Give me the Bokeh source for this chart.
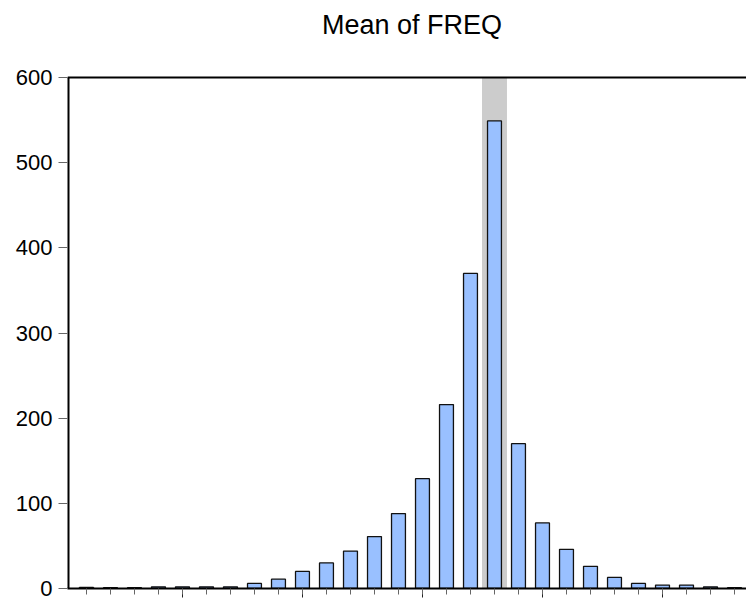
from bokeh.plotting import figure
from bokeh.models import FixedTicker, Range1d, Span, ColumnDataSource
from bokeh.core.properties import value
from bokeh.embed import file_html
from bokeh.resources import INLINE

# Bin index and mean frequency per bin
bins = list(range(1, 29))
freq = [1.2, 1.0, 1.0, 2, 2, 2, 2, 6, 11, 20, 30, 44, 61, 88, 129, 216,
        370, 549, 170, 77, 46, 26, 13, 6, 4, 4, 2, 1]
highlight_bin = [18]
y_ticks = [0, 100, 200, 300, 400, 500, 600]
x_major = [5, 10, 15, 20, 25]
title_text = ["Mean of FREQ"]

FONT = "Liberation Sans"

# Canvas geometry: the frame reaches the top of the canvas so the title can
# sit in the headroom above the value axis, which ends at Y1.
W, H = 746, 600
BORDER_L, BORDER_B = 67, 12
HEADROOM = 77                     # px between canvas top and the Y1 line
X0, X1 = 0.21, 28.5
Y0, Y1 = 0, 600
px_per_unit = (H - BORDER_B - HEADROOM) / (Y1 - Y0)
Y_TOP = Y1 + HEADROOM / px_per_unit

p = figure(width=W, height=H, output_backend="svg", toolbar_location=None,
           x_range=Range1d(X0, X1), y_range=Range1d(Y0, Y_TOP),
           min_border_left=BORDER_L, min_border_right=0, min_border_top=0,
           min_border_bottom=BORDER_B)

p.outline_line_color = None
p.xgrid.visible = False
p.ygrid.visible = False
p.background_fill_color = "white"
p.border_fill_color = "white"

# shaded band behind the selected bin
hsrc = ColumnDataSource(dict(x=highlight_bin, top=[Y1]))
p.vbar(x="x", top="top", bottom=0, width=1.04, source=hsrc,
       fill_color="#cccccc", line_color=None)

src = ColumnDataSource(dict(x=bins, top=freq))
p.vbar(x="x", top="top", bottom=0, width=0.58, source=src,
       fill_color="#99c0ff", line_color="#111111", line_width=1.3)

# top border line of the value area
p.add_layout(Span(location=Y1, dimension="width", line_color="black",
                  line_width=2))

# value axis line, stopping at Y1 (half of it falls outside the frame clip)
p.segment(x0=[X0], y0=[Y0], x1=[X0], y1=[Y1], line_color="black",
          line_width=4)

# chart title in the headroom
p.text(x=[(X0 + X1) / 2], y=[Y1 + 53 / px_per_unit], text=title_text,
       x_offset=5, text_font=value(FONT), text_font_size=value("27px"),
       text_align="center", text_baseline="alphabetic", text_color="black")

# y axis: ticks and labels only
p.yaxis.ticker = FixedTicker(ticks=y_ticks)
p.yaxis.axis_line_color = None
p.yaxis.major_tick_out = 9
p.yaxis.major_tick_in = 0
p.yaxis.major_tick_line_color = "#666666"
p.yaxis.minor_tick_line_color = None
p.yaxis.major_label_text_font = FONT
p.yaxis.major_label_text_font_size = "22px"
p.yaxis.major_label_text_color = "black"
p.yaxis.major_label_standoff = 6

# x axis: ticks at every bin, longer ticks every fifth bin, no labels
p.xaxis.ticker = FixedTicker(ticks=x_major, minor_ticks=bins)
p.xaxis.axis_line_color = "black"
p.xaxis.axis_line_width = 2
p.xaxis.major_tick_out = 9
p.xaxis.major_tick_in = 0
p.xaxis.minor_tick_out = 6
p.xaxis.minor_tick_in = 0
p.xaxis.major_tick_line_color = "#222222"
p.xaxis.minor_tick_line_color = "#666666"
p.xaxis.major_label_text_font_size = "0px"
p.xaxis.major_label_text_color = None

open("out.html", "w").write(file_html(p, INLINE))
